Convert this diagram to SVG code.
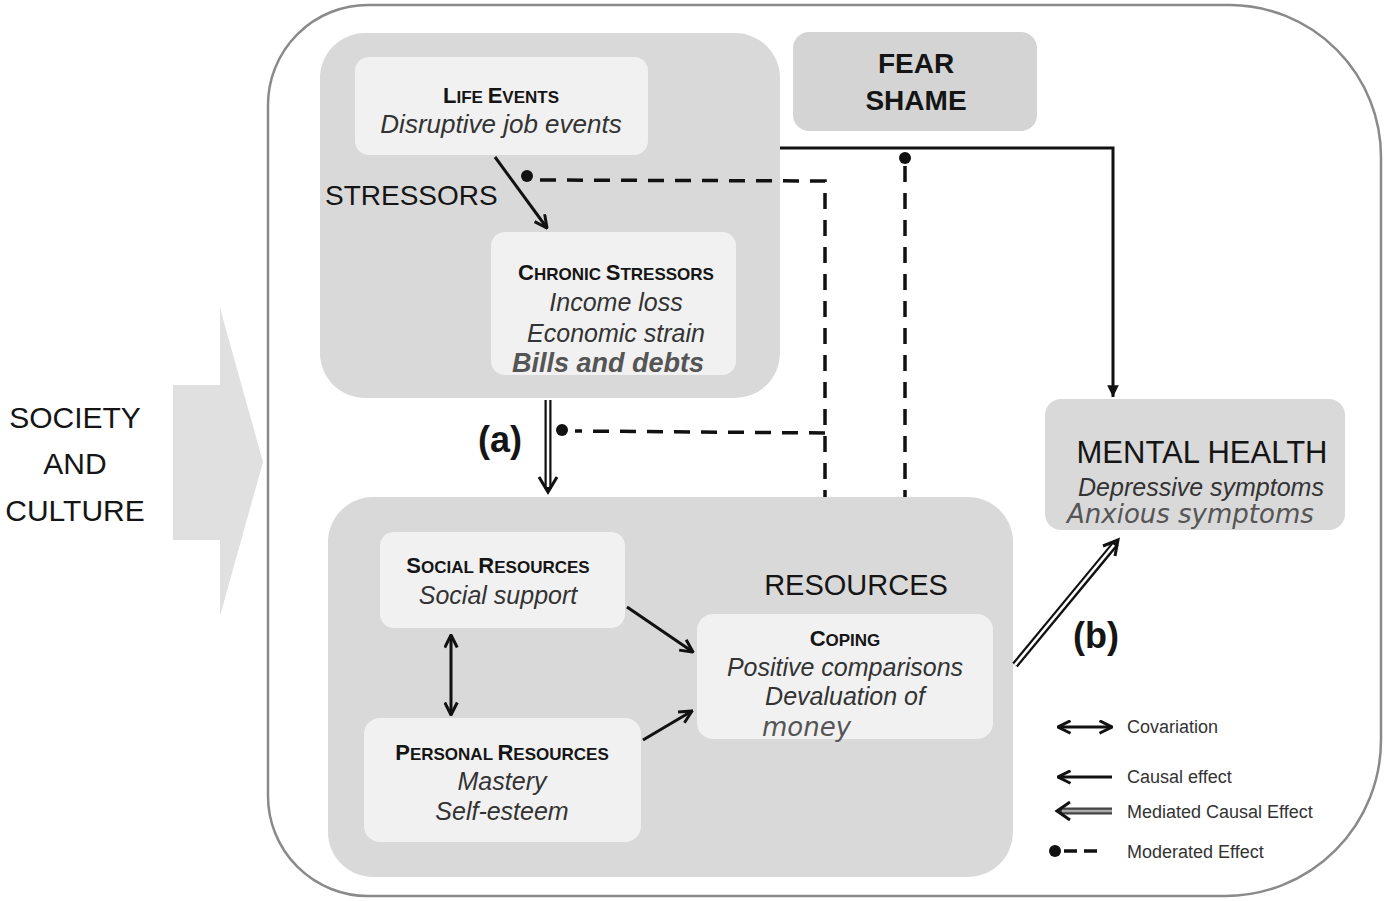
<svg xmlns="http://www.w3.org/2000/svg" width="1385" height="901" viewBox="0 0 1385 901">
<defs>
<style>
text{font-family:"Liberation Sans",Arial,sans-serif;fill:#151515;}
.title{font-size:30px;}
.bold{font-weight:bold;}
.it{font-style:italic;font-size:25px;fill:#333;}
.dv{font-family:"DejaVu Sans",sans-serif;font-style:italic;font-size:25px;fill:#555;}
.scb{font-size:22px;font-weight:bold;}
.scs{font-size:17px;font-weight:bold;}
.group{fill:#d9d9d9;}
.inner{fill:#f1f1f1;}
.line{stroke:#111;stroke-width:3;fill:none;}
.dash{stroke:#111;stroke-width:3.5;fill:none;stroke-dasharray:16,11;}
.medo{stroke:#111;stroke-width:7;fill:none;}
.medi{stroke:#fff;stroke-width:2.6;fill:none;}
.head{stroke:#111;stroke-width:3;fill:none;stroke-linejoin:miter;}
.legend{font-size:18px;fill:#333;}
.gray{fill:#555;}
</style>
<marker id="arr" viewBox="0 0 12 12" refX="11" refY="6" markerWidth="15" markerHeight="15" markerUnits="userSpaceOnUse" orient="auto-start-reverse">
<path d="M1,1 L11,6 L1,11" fill="none" stroke="#111" stroke-width="2.4"/>
</marker>
<marker id="tri" viewBox="0 0 12 12" refX="11" refY="6" markerWidth="14" markerHeight="14" markerUnits="userSpaceOnUse" orient="auto">
<path d="M1,1 L11,6 L1,11 Z" fill="#111"/>
</marker>
</defs>
<rect width="1385" height="901" fill="#ffffff"/>

<g id="frame">
<path d="M268,105 A100,100 0 0 1 368,5 L1230,5 A152,152 0 0 1 1381,157 L1381,740 A156,156 0 0 1 1225,896 L368,896 A100,100 0 0 1 268,796 Z" fill="none" stroke="#8a8a8a" stroke-width="2.5"/>
</g>

<g id="society">
<polygon points="173,385 220,385 220,308 263,462 220,616 220,540 173,540" fill="#e0e0e0"/>
<text class="title" x="75" y="428" text-anchor="middle">SOCIETY</text>
<text class="title" x="75" y="474" text-anchor="middle">AND</text>
<text class="title" x="75" y="521" text-anchor="middle">CULTURE</text>
</g>

<g id="stressors">
<rect class="group" x="320" y="33" width="460" height="365" rx="45"/>
<text class="title" x="325" y="205" style="font-size:28px">STRESSORS</text>
</g>

<g id="life-events">
<rect class="inner" x="355" y="57" width="293" height="98" rx="14"/>
<text x="501" y="103" text-anchor="middle"><tspan class="scb">L</tspan><tspan class="scs">IFE </tspan><tspan class="scb">E</tspan><tspan class="scs">VENTS</tspan></text>
<text class="it" x="501" y="133" text-anchor="middle" style="font-size:26px">Disruptive job events</text>
</g>

<g id="chronic-stressors">
<rect class="inner" x="491" y="232" width="245" height="143" rx="14"/>
<text x="616" y="280" text-anchor="middle"><tspan class="scb">C</tspan><tspan class="scs">HRONIC </tspan><tspan class="scb">S</tspan><tspan class="scs">TRESSORS</tspan></text>
<text class="it" x="616" y="311" text-anchor="middle">Income loss</text>
<text class="it" x="616" y="342" text-anchor="middle">Economic strain</text>
<text class="it bold gray" x="608" y="372" text-anchor="middle" style="font-size:27px">Bills and debts</text>
</g>

<g id="fear-shame">
<rect x="793" y="32" width="244" height="99" rx="16" fill="#d4d4d4"/>
<text class="bold" x="916" y="73" text-anchor="middle" style="font-size:28px">FEAR</text>
<text class="bold" x="916" y="110" text-anchor="middle" style="font-size:28px">SHAME</text>
</g>

<g id="resources">
<rect class="group" x="328" y="497" width="685" height="380" rx="45"/>
<text class="title" x="856" y="595" text-anchor="middle" style="font-size:29px">RESOURCES</text>
</g>

<g id="social-resources">
<rect class="inner" x="380" y="532" width="245" height="96" rx="14"/>
<text x="498" y="573" text-anchor="middle"><tspan class="scb">S</tspan><tspan class="scs">OCIAL </tspan><tspan class="scb">R</tspan><tspan class="scs">ESOURCES</tspan></text>
<text class="it" x="498" y="604" text-anchor="middle">Social support</text>
</g>

<g id="personal-resources">
<rect class="inner" x="364" y="718" width="277" height="124" rx="16"/>
<text x="502" y="760" text-anchor="middle"><tspan class="scb">P</tspan><tspan class="scs">ERSONAL </tspan><tspan class="scb">R</tspan><tspan class="scs">ESOURCES</tspan></text>
<text class="it" x="502" y="790" text-anchor="middle">Mastery</text>
<text class="it" x="502" y="820" text-anchor="middle">Self-esteem</text>
</g>

<g id="coping">
<rect class="inner" x="697" y="614" width="296" height="125" rx="16"/>
<text x="845" y="646" text-anchor="middle"><tspan class="scb">C</tspan><tspan class="scs">OPING</tspan></text>
<text class="it" x="845" y="676" text-anchor="middle">Positive comparisons</text>
<text class="it" x="845" y="705" text-anchor="middle">Devaluation of</text>
<text class="dv" x="762" y="736" style="font-size:26px">money</text>
</g>

<g id="mental-health">
<rect class="group" x="1045" y="399" width="300" height="131" rx="16"/>
<text class="title" x="1202" y="463" text-anchor="middle" style="font-size:31px">MENTAL HEALTH</text>
<text class="it" x="1201" y="496" text-anchor="middle">Depressive symptoms</text>
<text class="dv" x="1067" y="523" style="font-size:26px">Anxious symptoms</text>
</g>

<g id="connectors">
<line class="line" x1="495" y1="157" x2="547" y2="228" marker-end="url(#arr)"/>
<polyline class="line" points="780,148 1113,148 1113,397" marker-end="url(#tri)"/>
<circle cx="527" cy="176" r="6" fill="#111"/>
<path class="dash" d="M540,180 L825,181 L825,497"/>
<path class="dash" d="M825,433 L575,431"/>
<circle cx="562" cy="430" r="6" fill="#111"/>
<circle cx="905" cy="158" r="6" fill="#111"/>
<path class="dash" d="M905,166 L905,497"/>
<line class="medo" x1="548" y1="400" x2="548" y2="489"/>
<line class="medi" x1="548" y1="400" x2="548" y2="487"/>
<polyline class="head" points="539,477 548,492 557,477"/>
<text class="bold" x="478" y="452" style="font-size:36px">(a)</text>
<line class="line" x1="627" y1="607" x2="693" y2="652" marker-end="url(#arr)"/>
<line class="line" x1="643" y1="740" x2="692" y2="711" marker-end="url(#arr)"/>
<line class="line" x1="451" y1="635" x2="451" y2="715" marker-start="url(#arr)" marker-end="url(#arr)"/>
<line class="medo" x1="1015" y1="665" x2="1116" y2="543"/>
<line class="medi" x1="1015" y1="665" x2="1114" y2="545"/>
<polyline class="head" points="1103,546 1118,540 1115,556"/>
<text class="bold" x="1073" y="648" style="font-size:36px">(b)</text>
</g>

<g id="legend">
<line class="line" x1="1058" y1="727" x2="1112" y2="727" marker-start="url(#arr)" marker-end="url(#arr)"/>
<text class="legend" x="1127" y="733">Covariation</text>
<line class="line" x1="1112" y1="777" x2="1058" y2="777" marker-end="url(#arr)"/>
<text class="legend" x="1127" y="783">Causal effect</text>
<line class="medo" x1="1112" y1="811" x2="1060" y2="811" style="stroke:#444"/>
<line class="medi" x1="1112" y1="811" x2="1062" y2="811" style="stroke:#aaa"/>
<polyline class="head" points="1070,802 1057,811 1070,820"/>
<text class="legend" x="1127" y="818">Mediated Causal Effect</text>
<circle cx="1055" cy="851" r="6" fill="#111"/>
<path class="dash" d="M1064,851 L1102,851" style="stroke-dasharray:13,7"/>
<text class="legend" x="1127" y="858">Moderated Effect</text>
</g>
</svg>
